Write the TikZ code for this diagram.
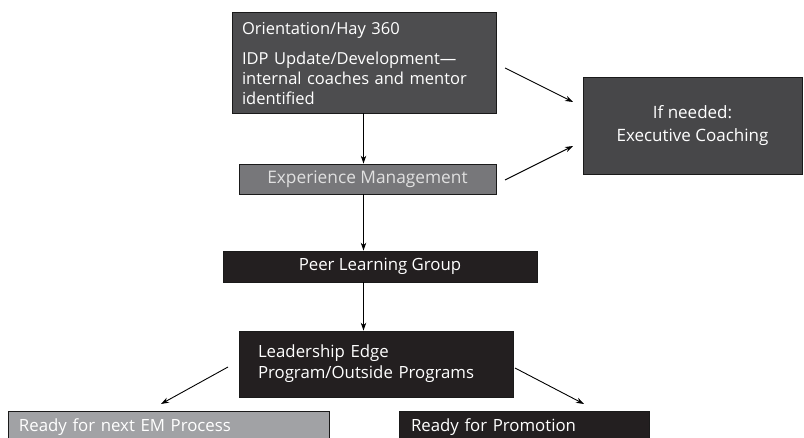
\documentclass[tikz,border=0pt]{standalone}
\usepackage{fontspec}
\setmainfont{Open Sans}
\usetikzlibrary{arrows.meta,calc}
\definecolor{cTop}{HTML}{4D4D4F}
\definecolor{cEM}{HTML}{77777A}
\definecolor{cExec}{HTML}{474749}
\definecolor{cBlack}{HTML}{231F20}
\definecolor{cNext}{HTML}{A1A2A5}
\definecolor{cLine}{HTML}{1A1A1A}
\tikzset{
  box/.style={draw=cLine, line width=0.8pt, inner sep=0pt, text=white,
    font=\fontsize{16.8}{21}\selectfont},
  arr/.style={draw=black, line width=0.9pt, -{Stealth[length=8pt,width=5.5pt]}},
}
\begin{document}
\begin{tikzpicture}[x=1pt,y=-1pt]
\useasboundingbox (0,0) rectangle (804,438);
\node[box, fill=cTop, minimum width=264pt, minimum height=101pt, text width=244pt, align=left, font=\fontsize{16.5}{20}\selectfont] (top) at (364,62.5)
  {\rule{0pt}{14pt}Orientation/Hay 360\\[10pt]IDP Update/Development---\\internal coaches and mentor\\identified};
\node[box, fill=cEM, minimum width=257pt, minimum height=30pt, text=white!88!black, font=\fontsize{17.3}{21}\selectfont] (em) at (367.5,179) {Experience Management};
\node[box, fill=cExec, minimum width=219pt, minimum height=97pt, align=center, font=\fontsize{17}{23}\selectfont] (exec) at (692.5,125.5) {If needed:\\Executive Coaching};
\node[box, fill=cBlack, minimum width=314pt, minimum height=31pt] (plg) at (380,266.5) {Peer Learning Group};
\node[box, fill=cBlack, minimum width=274pt, minimum height=66pt, text width=236pt, align=left] (le) at (376,364) {Leadership Edge\\Program/Outside Programs};
\node[box, fill=cNext, minimum width=321pt, minimum height=32pt, text width=299pt, align=left] (rnext) at (168.5,427) {Ready for next EM Process};
\node[box, fill=cBlack, minimum width=250pt, minimum height=32pt, text width=226pt, align=left] (rprom) at (524,427) {Ready for Promotion};
\coordinate (ax) at (363.5,0);
\draw[arr] (top.south -| ax) -- (em.north -| ax);
\draw[arr] (em.south -| ax) -- (plg.north -| ax);
\draw[arr] (plg.south -| ax) -- (le.north -| ax);
\coordinate (a1s) at (505,68);
\coordinate (a1e) at (573,102);
\coordinate (a2s) at (505,180);
\coordinate (a2e) at (573,146);
\coordinate (a3s) at (228,367);
\coordinate (a3e) at (161,404);
\coordinate (a4s) at (515,368);
\coordinate (a4e) at (584,404);
\draw[arr] (a1s) -- (a1e);
\draw[arr] (a2s) -- (a2e);
\draw[arr] (a3s) -- (a3e);
\draw[arr] (a4s) -- (a4e);
\end{tikzpicture}
\end{document}
